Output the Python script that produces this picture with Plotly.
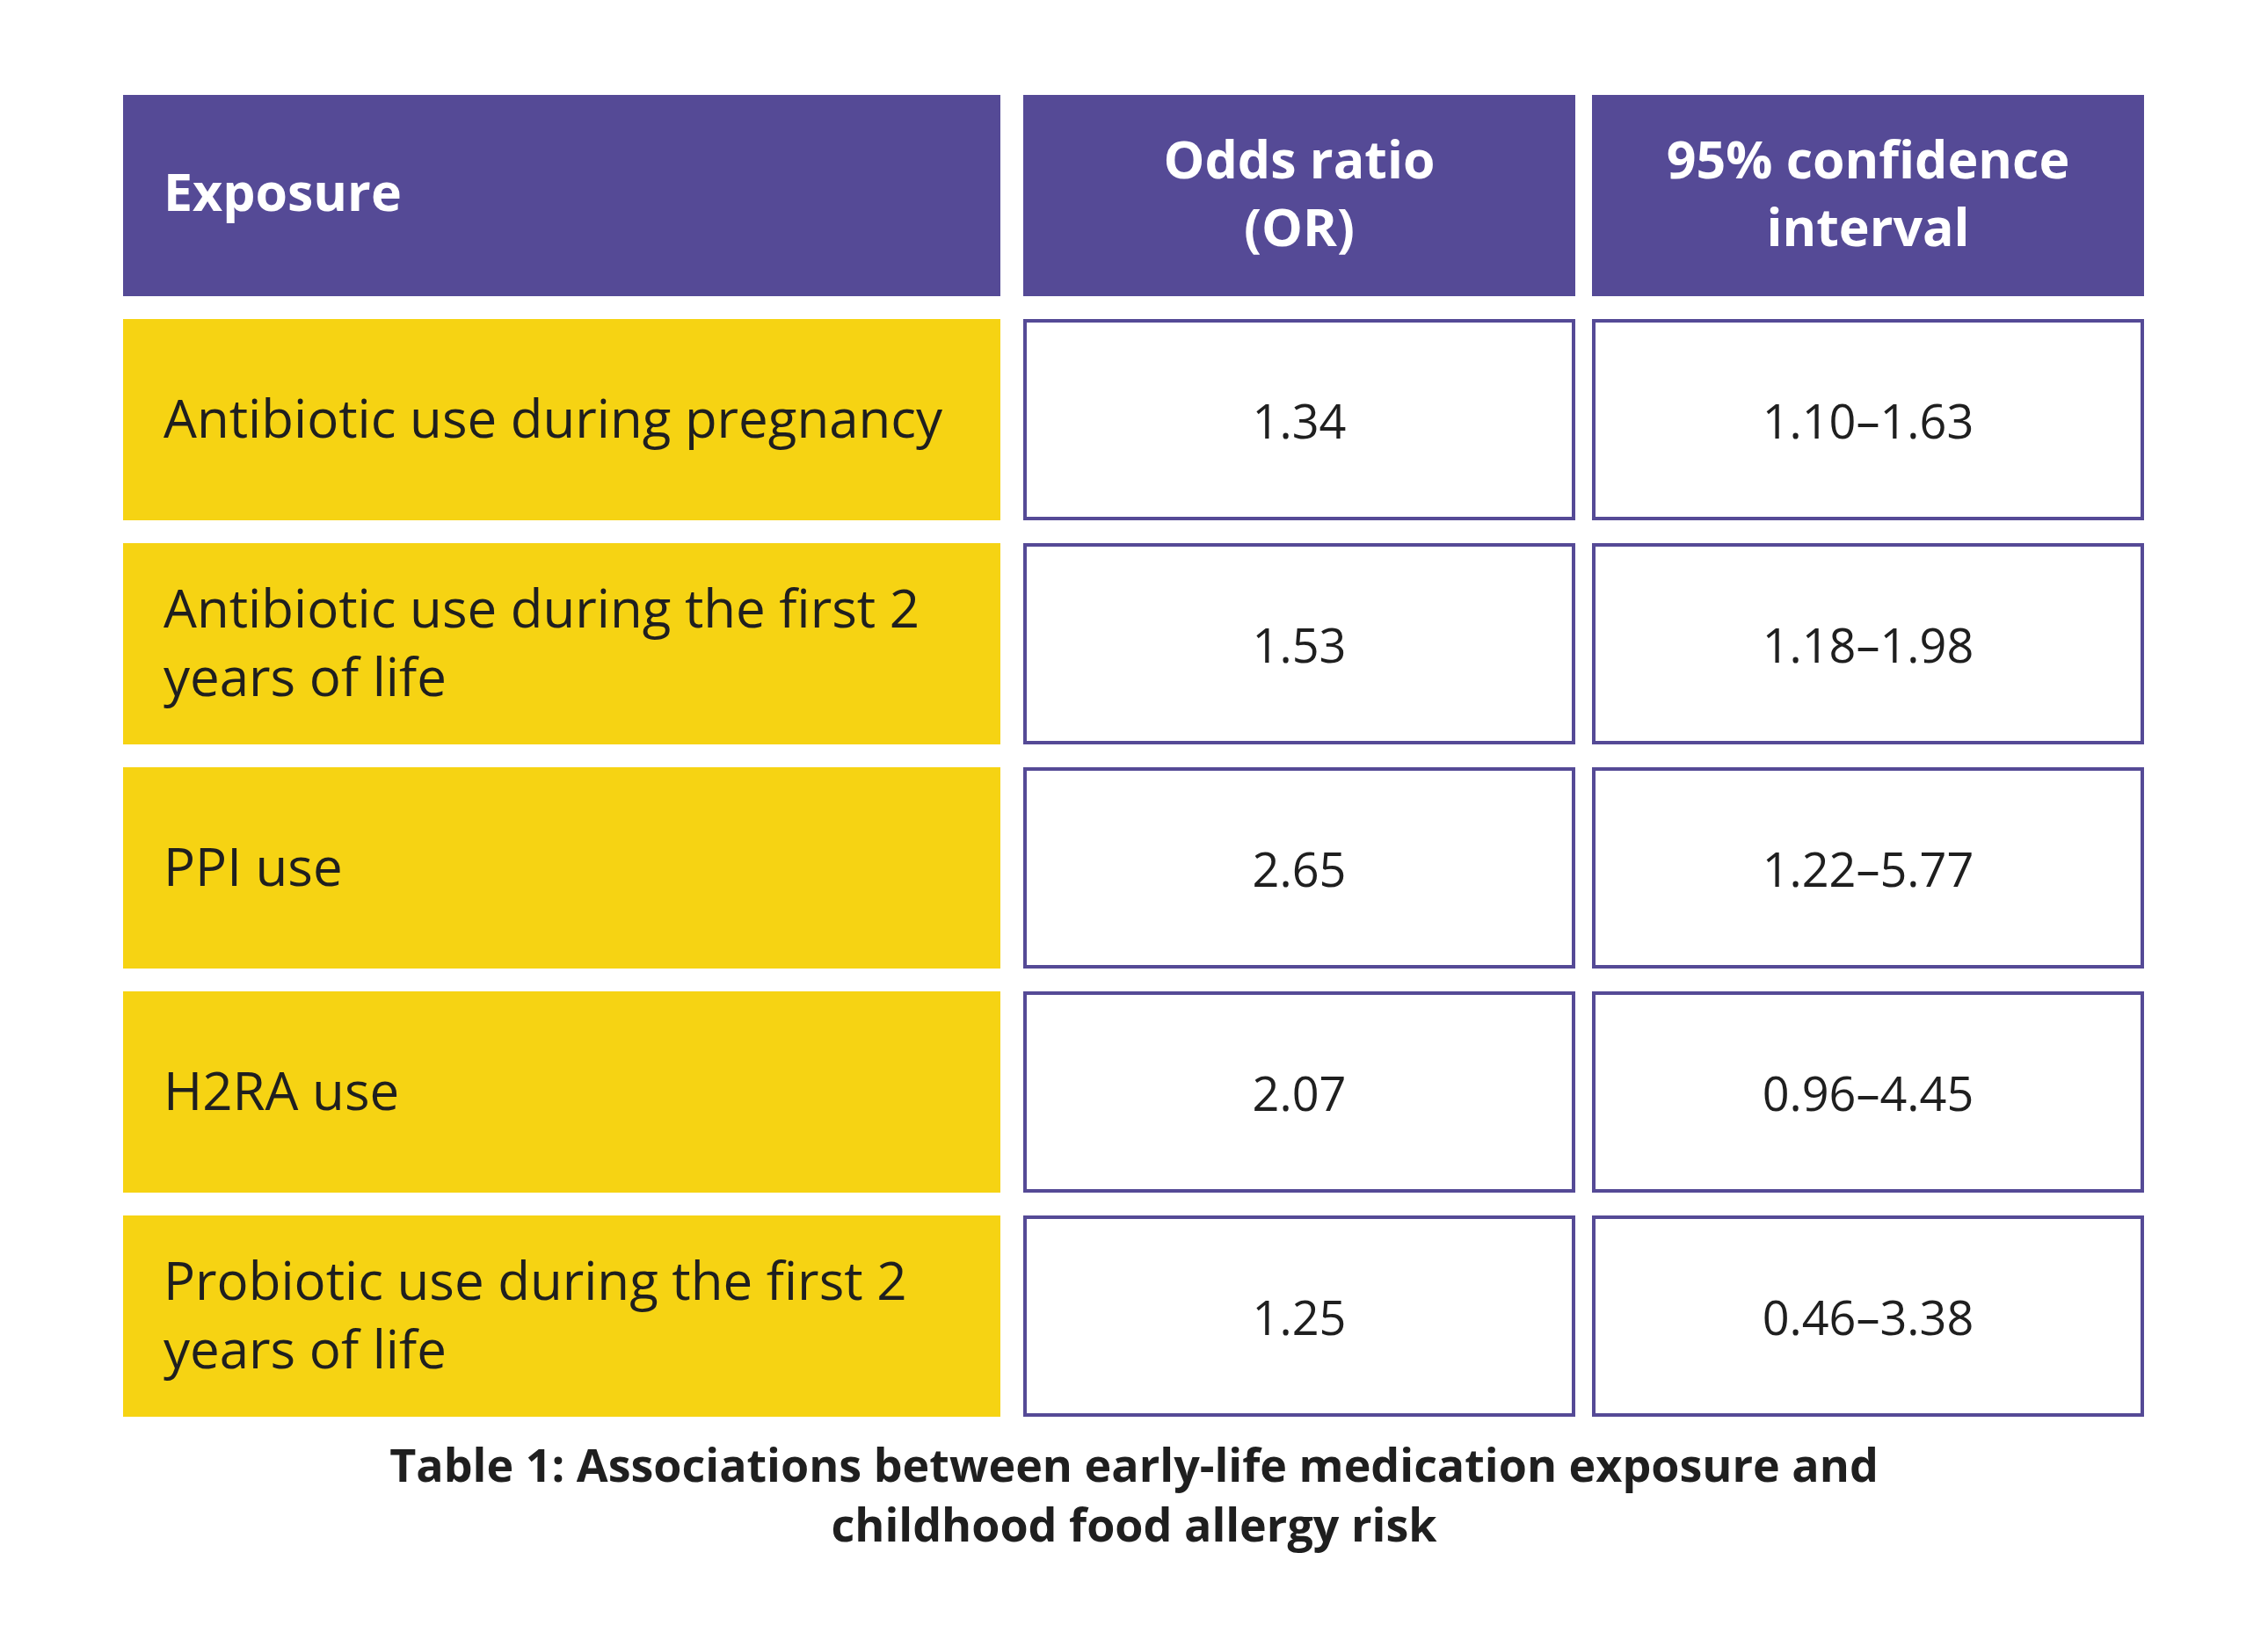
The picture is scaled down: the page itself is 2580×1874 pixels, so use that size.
import plotly.graph_objects as go

# table content
headers = ["Exposure", "Odds ratio<br>(OR)", "95% confidence<br>interval"]
exposures = [
    "Antibiotic use during pregnancy",
    "Antibiotic use during the first 2<br>years of life",
    "PPI use",
    "H2RA use",
    "Probiotic use during the first 2<br>years of life",
]
odds_ratios = [1.34, 1.53, 2.65, 2.07, 1.25]
ci_low = [1.10, 1.18, 1.22, 0.96, 0.46]
ci_high = [1.63, 1.98, 5.77, 4.45, 3.38]
caption = ("Table 1: Associations between early-life medication exposure and<br>"
           "childhood food allergy risk")

PURPLE = "#554A96"
YELLOW = "#F6D313"
INK = "#1F1F1F"
FONT = "Open Sans"

W, H = 2580, 1874
COLS = [(140, 1138), (1164, 1792), (1811, 2439)]
TOP, PITCH, CELL_H = 108, 255, 229
PAD = 46
BORDER = 4


def row_span(i):
    y0 = TOP + i * PITCH
    return y0, y0 + CELL_H


fig = go.Figure()
shapes = []

# header row
y0, y1 = row_span(0)
for x0, x1 in COLS:
    shapes.append(dict(type="rect", xref="x", yref="y", x0=x0, x1=x1, y0=y0, y1=y1,
                       fillcolor=PURPLE, line=dict(width=0), layer="below"))

# body rows
for i in range(len(exposures)):
    y0, y1 = row_span(i + 1)
    x0, x1 = COLS[0]
    shapes.append(dict(type="rect", xref="x", yref="y", x0=x0, x1=x1, y0=y0, y1=y1,
                       fillcolor=YELLOW, line=dict(width=0), layer="below"))
    for x0, x1 in COLS[1:]:
        h = BORDER / 2
        shapes.append(dict(type="rect", xref="x", yref="y",
                           x0=x0 + h, x1=x1 - h, y0=y0 + h, y1=y1 - h,
                           fillcolor="white", line=dict(width=BORDER, color=PURPLE),
                           layer="below"))

centers_y = [sum(row_span(i + 1)) / 2 for i in range(len(exposures))]
head_y = sum(row_span(0)) / 2
mid = [(a + b) / 2 for a, b in COLS]

# header text
fig.add_trace(go.Scatter(
    x=[COLS[0][0] + PAD], y=[head_y + 3], text=[headers[0]], mode="text",
    textposition="middle right",
    textfont=dict(family=FONT, size=59, color="white", weight=700),
))
fig.add_trace(go.Scatter(
    x=mid[1:], y=[head_y + 4] * 2, text=headers[1:], mode="text",
    textposition="middle center",
    textfont=dict(family=FONT, size=59, color="white", weight=700),
))

# exposure labels
fig.add_trace(go.Scatter(
    x=[COLS[0][0] + PAD] * len(exposures), y=[y + 5 for y in centers_y],
    text=exposures, mode="text", textposition="middle right",
    textfont=dict(family=FONT, size=60, color=INK, weight=400),
))

# values
fig.add_trace(go.Scatter(
    x=[mid[1]] * len(odds_ratios), y=[y + 8 for y in centers_y],
    text=[f"{v:.2f}" for v in odds_ratios],
    mode="text", textposition="middle center",
    textfont=dict(family=FONT, size=54, color=INK, weight=400),
))
fig.add_trace(go.Scatter(
    x=[mid[2]] * len(ci_low), y=[y + 8 for y in centers_y],
    text=[f"{a:.2f}\u2013{b:.2f}" for a, b in zip(ci_low, ci_high)],
    mode="text", textposition="middle center",
    textfont=dict(family=FONT, size=54, color=INK, weight=400),
))

# caption
fig.add_trace(go.Scatter(
    x=[W / 2], y=[1707], text=[caption], mode="text",
    textposition="middle center",
    textfont=dict(family=FONT, size=52, color=INK, weight=700),
))

fig.update_layout(
    width=W, height=H,
    margin=dict(l=0, r=0, t=0, b=0),
    paper_bgcolor="white", plot_bgcolor="white",
    showlegend=False,
    shapes=shapes,
    hovermode=False,
)
fig.update_xaxes(range=[0, W], visible=False, fixedrange=True)
fig.update_yaxes(range=[H, 0], visible=False, fixedrange=True)

# drop the page's default body margin so the figure sits at the window origin
fig.write_html("out.html", config={"displayModeBar": False},
               post_script="document.body.style.margin = '0';")
